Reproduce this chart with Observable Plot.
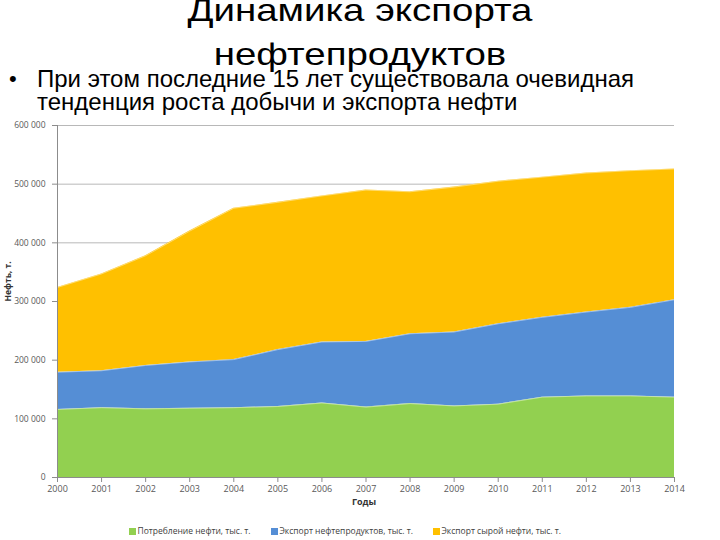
<!DOCTYPE html>
<html>
<head>
<meta charset="utf-8">
<script src="https://cdn.jsdelivr.net/npm/d3@7"></script>
<script src="https://cdn.jsdelivr.net/npm/@observablehq/plot@0.6"></script>
<style>
  html, body { margin: 0; padding: 0; background: #fff; }
  body { width: 720px; height: 540px; position: relative; overflow: hidden; font-family: "Liberation Sans", Arial, sans-serif; }
  #title { position: absolute; left: 0; top: -12px; width: 720px; text-align: center; font-size: 31.5px; line-height: 44px; color: #000; transform: scaleX(1.22); transform-origin: 360px 0; }
  #bullet { position: absolute; left: 9px; top: 67px; font-size: 22px; line-height: 23px; }
  #sub { position: absolute; left: 37px; top: 67px; width: 660px; font-size: 24px; line-height: 23px; color: #000; }
  #chart { position: absolute; left: 0; top: 115px; }
  .leg { position: absolute; top: 525px; font-family: "Open Sans", sans-serif; font-size: 8.5px; color: #404040; white-space: nowrap; line-height: 12px; }
  .sw { display: inline-block; width: 6.5px; height: 6.5px; margin-right: 2px; vertical-align: -0.5px; }
</style>
</head>
<body>
<div id="title">Динамика экспорта<br>нефтепродуктов</div>
<div id="bullet">•</div>
<div id="sub">При этом последние 15 лет существовала очевидная<br>тенденция роста добычи и экспорта нефти</div>
<div id="chart"></div>
<div id="legend"></div>
<script>
const years = [2000, 2001, 2002, 2003, 2004, 2005, 2006, 2007, 2008, 2009, 2010, 2011, 2012, 2013, 2014];
const consumption   = [116000, 119000, 117000, 118000, 119000, 121000, 127000, 120000, 126000, 122000, 125000, 137000, 139000, 139000, 137000];
const productExport = [63500, 63000, 74000, 79000, 82000, 97000, 104000, 112000, 119000, 126000, 137000, 136000, 143000, 151000, 166000];
const crudeExport   = [144500, 165000, 187000, 223000, 258000, 251000, 249000, 258000, 242000, 247000, 243000, 239000, 237000, 233000, 223000];
const seriesNames = ["Потребление нефти, тыс. т.", "Экспорт нефтепродуктов, тыс. т.", "Экспорт сырой нефти, тыс. т."];
const seriesColors = ["#92D050", "#558ED5", "#FFC000"];
const yTicks = [0, 100000, 200000, 300000, 400000, 500000, 600000];
const yLabel = "Нефть, т.";
const xLabel = "Годы";

const seriesValues = [consumption, productExport, crudeExport];
const data = [];
seriesNames.forEach((name, i) => {
  years.forEach((yr, j) => data.push({ year: yr, value: seriesValues[i][j], series: name }));
});

const ru = d3.formatLocale({ decimal: ",", thousands: "\u00a0", grouping: [3], currency: ["", ""] });
const fmt = ru.format(",d");

const chart = Plot.plot({
  width: 720,
  height: 402,
  marginTop: 10,
  marginBottom: 40,
  marginLeft: 57,
  marginRight: 46,
  style: { fontFamily: "Open Sans, sans-serif", background: "transparent", color: "#595959" },
  x: { type: "linear", domain: [2000, 2014], label: null },
  y: { domain: [0, 600000], label: null },
  color: { domain: seriesNames, range: seriesColors },
  marks: [
    Plot.gridY(yTicks, { stroke: "#b8b8b8", strokeOpacity: 1, strokeWidth: 1 }),
    Plot.areaY(data, Plot.stackY({ x: "year", y: "value", z: "series", fill: "series", order: seriesNames, curve: "linear" })),
    Plot.lineY(data, Plot.stackY2({ x: "year", y: "value", z: "series", order: seriesNames, stroke: "#ffffff", strokeOpacity: 0.55, strokeWidth: 0.8 })),
    Plot.ruleX([2000], { stroke: "#8c8c8c" }),
    Plot.ruleY([0], { stroke: "#8c8c8c" }),
    Plot.axisY(yTicks, { tickSize: 5, tickPadding: 7, tickFormat: fmt, fontSize: 8.5, stroke: "#8c8c8c", fill: "#595959", label: null }),
    Plot.axisX(years, { tickSize: 5, tickPadding: 3, tickFormat: "d", fontSize: 9, stroke: "#8c8c8c", fill: "#595959", label: null }),
    Plot.text([xLabel], { frameAnchor: "bottom", dy: 27, dx: -2, fontWeight: "bold", fontSize: 9, fill: "#333" }),
    Plot.text([yLabel], { frameAnchor: "left", dx: -49, rotate: -90, fontWeight: "bold", fontSize: 8.5, fill: "#333" })
  ]
});
document.getElementById("chart").appendChild(chart);

const legendLefts = [129, 271, 433];
const legend = document.getElementById("legend");
seriesNames.forEach((name, i) => {
  const d = document.createElement("div");
  d.className = "leg";
  d.style.left = legendLefts[i] + "px";
  d.innerHTML = `<span class="sw" style="background:${seriesColors[i]}"></span>${name}`;
  legend.appendChild(d);
});
</script>
</body>
</html>
